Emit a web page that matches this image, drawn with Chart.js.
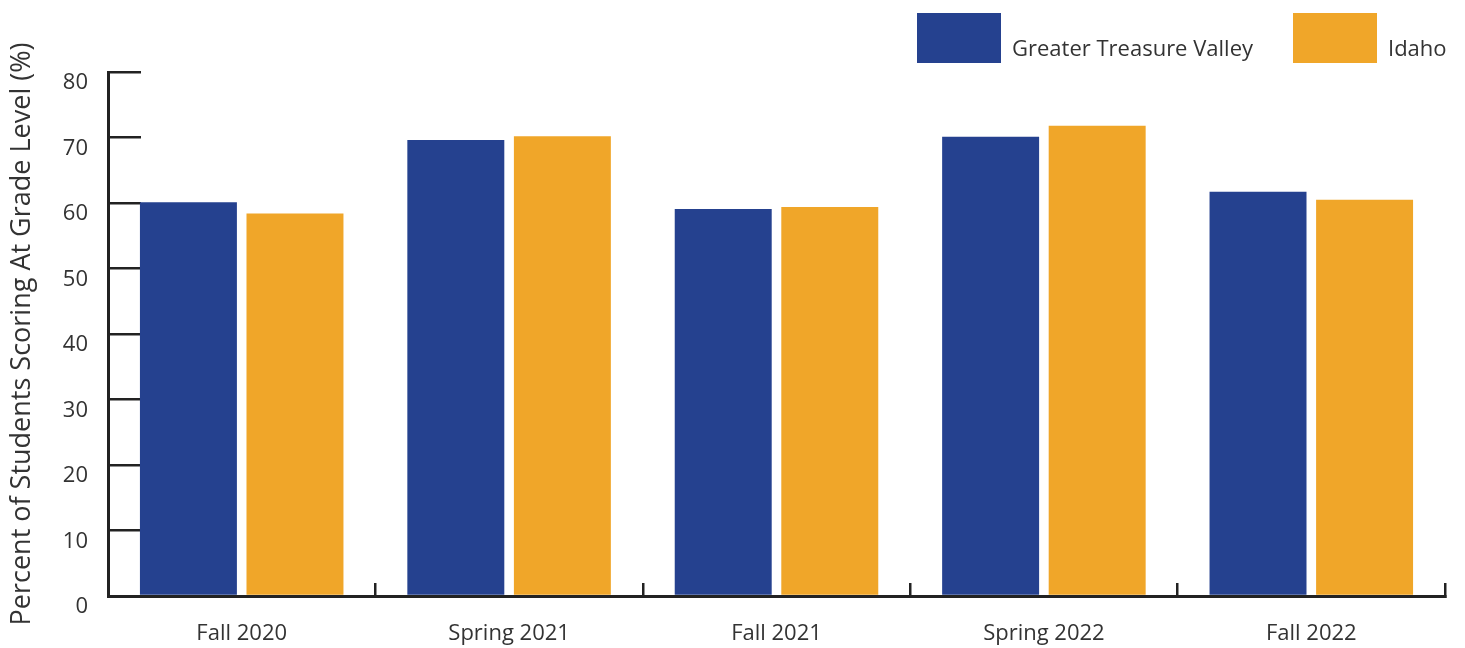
<!DOCTYPE html>
<html>
<head>
<meta charset="utf-8">
<script src="https://cdn.jsdelivr.net/npm/chart.js@4.4.1/dist/chart.umd.min.js"></script>
<style>
  html, body { margin: 0; padding: 0; background: #ffffff; overflow: hidden; }
  canvas { display: block; }
</style>
</head>
<body>
<canvas id="c" width="1465" height="648"></canvas>
<script>
const categories = ["Fall 2020", "Spring 2021", "Fall 2021", "Spring 2022", "Fall 2022"];
const seriesNames = ["Greater Treasure Valley", "Idaho"];
const gtvValues = [60.1, 69.6, 59.1, 70.1, 61.7];
const idahoValues = [58.4, 70.2, 59.4, 71.8, 60.5];
const yTicks = [0, 10, 20, 30, 40, 50, 60, 70, 80];
const yTitle = "Percent of Students Scoring At Grade Level (%)";

const colors = ["#25418F", "#F0A629"];
const textColor = "#333333";
const fontFamily = "'Open Sans', 'Noto Sans', sans-serif";

const legendPlugin = {
  id: 'customLegend',
  afterDraw(chart) {
    const ctx = chart.ctx;
    const boxes = [{x: 917, y: 13}, {x: 1293, y: 13}];
    const bw = 84, bh = 50;
    ctx.save();
    ctx.font = "22px " + fontFamily;
    ctx.textBaseline = 'alphabetic';
    ctx.textAlign = 'left';
    chart.data.datasets.forEach((ds, i) => {
      const b = boxes[i];
      ctx.fillStyle = ds.backgroundColor;
      ctx.fillRect(b.x, b.y, bw, bh);
      ctx.fillStyle = textColor;
      ctx.fillText(ds.label, b.x + bw + 11, 56);
    });
    ctx.restore();
  }
};

new Chart(document.getElementById('c'), {
  type: 'bar',
  data: {
    labels: categories,
    datasets: [
      { label: seriesNames[0], data: gtvValues, backgroundColor: colors[0] },
      { label: seriesNames[1], data: idahoValues, backgroundColor: colors[1] }
    ]
  },
  options: {
    responsive: false,
    animation: false,
    devicePixelRatio: 1,
    layout: { padding: { top: 72, right: 20, bottom: 0, left: 0 } },
    datasets: { bar: { categoryPercentage: 0.797, barPercentage: 0.91 } },
    plugins: {
      legend: { display: false },
      tooltip: { enabled: false }
    },
    scales: {
      x: {
        offset: true,
        grid: {
          offset: true,
          drawOnChartArea: false,
          drawTicks: true,
          tickLength: -13,
          color: '#222222',
          lineWidth: 2.5
        },
        border: { display: true, color: '#222222', width: 3 },
        ticks: {
          color: textColor,
          padding: 38,
          font: { family: fontFamily, size: 22 },
          maxRotation: 0
        },
        afterFit(scale) { scale.height = 52; }
      },
      y: {
        min: 0,
        max: 80,
        afterBuildTicks(scale) { scale.ticks = yTicks.map(v => ({ value: v })); },
        grid: {
          drawOnChartArea: false,
          drawTicks: true,
          tickLength: -33,
          color: '#222222',
          lineWidth: 2.5
        },
        border: { display: true, color: '#222222', width: 3 },
        ticks: {
          color: textColor,
          padding: 53,
          labelOffset: 11,
          font: { family: fontFamily, size: 22 }
        },
        title: {
          display: true,
          text: yTitle,
          color: textColor,
          font: { family: fontFamily, size: 27 },
          padding: { top: 6, bottom: 0 }
        },
        afterFit(scale) {
          scale.width = 108;
          scale.paddingTop = 0;
          scale.paddingBottom = 0;
        }
      }
    }
  },
  plugins: [legendPlugin]
});
</script>
</body>
</html>
